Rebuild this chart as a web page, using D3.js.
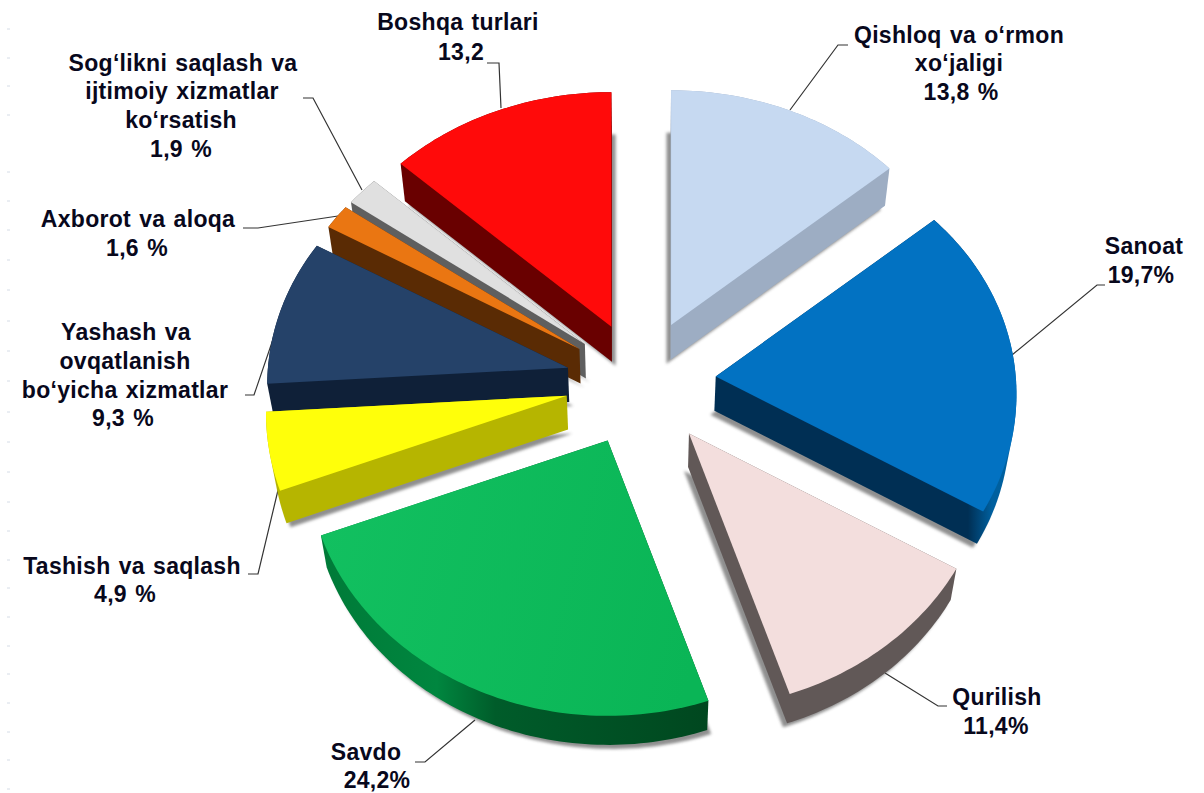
<!DOCTYPE html>
<html><head><meta charset="utf-8">
<script src="https://cdn.jsdelivr.net/npm/d3@7"></script>
<style>html,body{margin:0;padding:0;background:#fff}svg{display:block}
text{font-family:"Liberation Sans",Arial,sans-serif;font-weight:bold;font-size:23px;letter-spacing:.3px;word-spacing:1.5px;fill:#08081c;text-anchor:middle}</style>
</head><body><svg id="c" width="1204" height="793"></svg>
<script>
// Data
const categories = ["Qishloq va o‘rmon xo‘jaligi","Sanoat","Qurilish","Savdo","Tashish va saqlash","Yashash va ovqatlanish bo‘yicha xizmatlar","Axborot va aloqa","Sog‘likni saqlash va ijtimoiy xizmatlar ko‘rsatish","Boshqa turlari"];
const values = [13.8,19.7,11.4,24.2,4.9,9.3,1.6,1.9,13.2];
// Styles
const topColors  = ["#C6D9F1","#0272C2","#F3DEDD","#0CB95A","#FFFF0A","#254269","#EA7612","#E0E0E0","#FF0A0A"];
const sideColors = ["#9DADC3","#002F54","#615857","#024F24","#B6B500","#0F2038","#5A2B04","#5F5F5F","#690000"];
// Layout
const explode = [74,76,78,76,75,74,72,71,71];
const drawOrder = [7,6,5,4,8,0,1,2,3];
const labelLines = [
 [["Qishloq va o‘rmon",959,43],["xo‘jaligi",959,71],["13,8 %",961,100]],
 [["Sanoat",1144,254],["19,7%",1141,283]],
 [["Qurilish",997,705],["11,4%",996,734]],
 [["Savdo",366,760],["24,2%",377,788]],
 [["Tashish va saqlash",132,574],["4,9 %",125,602]],
 [["Yashash va",126,340],["ovqatlanish",125,369],["bo‘yicha xizmatlar",125,398],["9,3 %",123,426]],
 [["Axborot va aloqa",138,227],["1,6 %",137,256]],
 [["Sog‘likni saqlash va",183,71],["ijtimoiy xizmatlar",182,99],["ko‘rsatish",181,128],["1,9 %",181,157]],
 [["Boshqa turlari",458,30],["13,2",461,60]]
];
const leaders = [
 [[790,110],[838,45],[848,45]],
 [[1012,355],[1097,285],[1105,285]],
 [[885,673],[938,706],[947,706]],
 [[475,720],[425,762],[415,762]],
 [[279,486],[258,574],[248,574]],
 [[283,310],[254,395],[245,395]],
 [[338,216],[258,228],[243,228]],
 [[362,190],[313,98],[303,98]],
 [[501,108],[499,63],[487,63]]
];
const rulerTicks = [29,58,86,115,172,201,230,260,290,321,351,381,412,442,472,502,531,560,588,617,646,674,703,732,760,789];

const cx=640, cy=382, R=300, K=255, P=0.07, PY=0.08;
const warp = (a,r=1)=>{const s=Math.sin(a),c=Math.cos(a);return [R*r*s*(1-P*c), -K*r*c*(1-PY*c)];};
const bottomOf = ([x,y])=>[cx+(x-cx)*0.982, y+34-0.015*(y-385)];

const pie = d3.pie().sort(null).value(d=>d);
const arcs = pie(values).map((d,i)=>{
  const mid=(d.startAngle+d.endAngle)/2, e=explode[i];
  const ax=cx+e*Math.sin(mid), ay=cy-0.85*e*Math.cos(mid);
  const n=Math.max(4,Math.ceil((d.endAngle-d.startAngle)/0.02));
  const rim=d3.range(n+1).map(j=>{
    const a=d.startAngle+(d.endAngle-d.startAngle)*j/n, p=warp(a);
    return [ax+p[0],ay+p[1]];
  });
  const top=[[ax,ay],...rim];
  return {i,top,bottom:top.map(bottomOf),ax,ay};
});
const line=d3.line().curve(d3.curveLinearClosed);
const svg=d3.select("#c");
const defs=svg.append("defs");
defs.append("filter").attr("id","blur").attr("x","-10%").attr("y","-10%").attr("width","120%").attr("height","120%")
  .append("feGaussianBlur").attr("stdDeviation",1.6);
const grad=(id,x1,x2,y1,y2,stops)=>{
  const g=defs.append("linearGradient").attr("id",id).attr("gradientUnits","userSpaceOnUse")
    .attr("x1",x1).attr("x2",x2).attr("y1",y1).attr("y2",y2);
  stops.forEach(([o,c])=>g.append("stop").attr("offset",o).attr("stop-color",c));
};
grad("savdoSide",320,710,0,0,[[0,"#007A38"],[0.3,"#00863F"],[0.45,"#005C2A"],[1,"#00471F"]]);
grad("savdoTop",320,710,500,600,[[0,"#12C060"],[1,"#0AB556"]]);
grad("sanoatSide",968,992,0,0,[[0,"#002F54"],[1,"#00609F"]]);
const sideFill={3:"url(#savdoSide)",1:"url(#sanoatSide)"};

// ruler ticks at the left edge
svg.append("g").selectAll("line").data(rulerTicks).join("line")
  .attr("x1",7).attr("x2",10).attr("y1",d=>d).attr("y2",d=>d).attr("stroke","#d5dce6").attr("stroke-width",1);

// leaders under the slices
svg.append("g").selectAll("path").data(leaders).join("path")
  .attr("d",d=>d3.line()(d)).attr("fill","none").attr("stroke","#333").attr("stroke-width",1.2);

const slices=svg.append("g").selectAll("g").data(drawOrder.map(i=>arcs[i])).join("g");
slices.append("path").attr("class","shadow")
  .attr("d",d=>line(d3.polygonHull(d.bottom)))
  .attr("transform",d=>`translate(${Math.max(-4,Math.min(4,(cx-d.ax)*0.13))},4)`)
  .attr("fill","#444").attr("opacity",0.6).attr("filter","url(#blur)");
slices.append("path").attr("class","side")
  .attr("d",d=>line(d3.polygonHull([...d.top,...d.bottom])))
  .attr("fill",d=>sideFill[d.i]||sideColors[d.i]);
slices.append("path").attr("class","top")
  .attr("d",d=>line(d.top))
  .attr("fill",d=>d.i===3?"url(#savdoTop)":topColors[d.i]);

// labels
svg.append("g").selectAll("text").data(labelLines.flat()).join("text")
  .attr("x",d=>d[1]).attr("y",d=>d[2]).text(d=>d[0]);
</script></body></html>
